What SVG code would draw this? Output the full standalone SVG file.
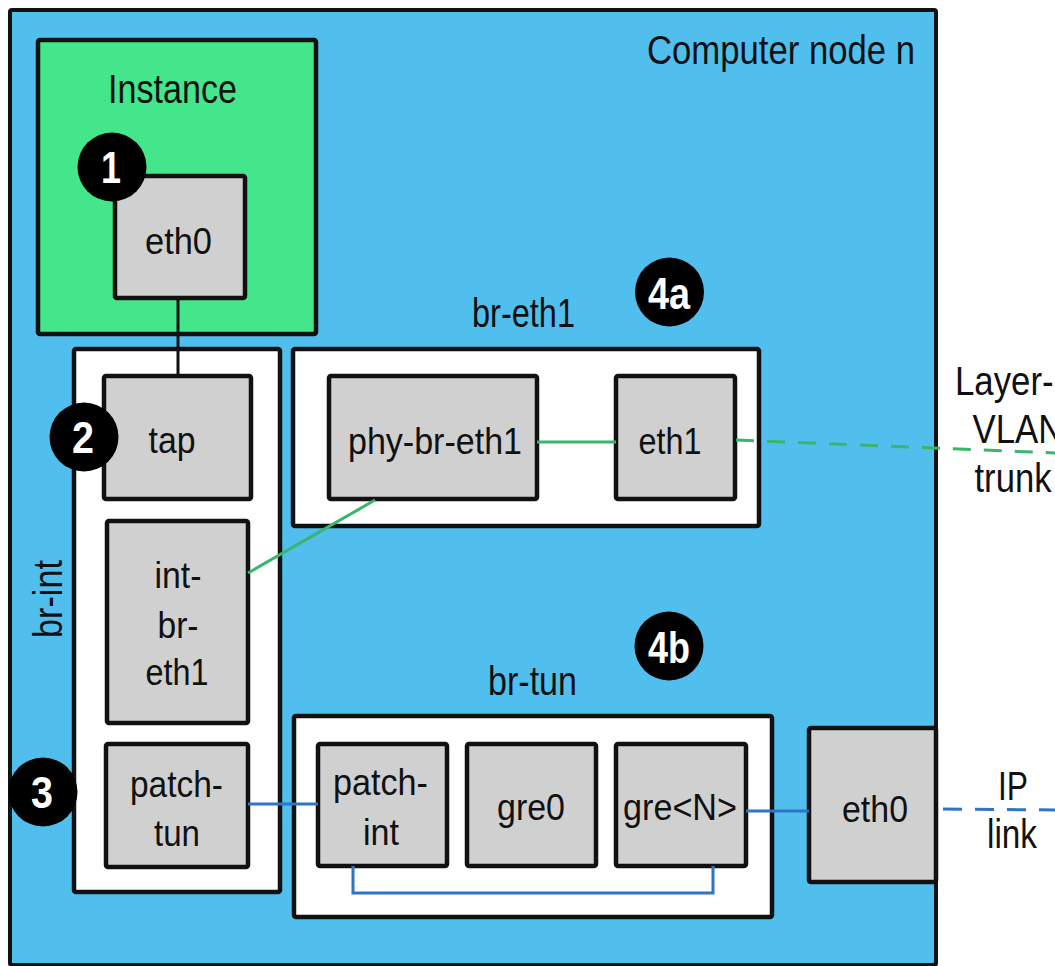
<svg xmlns="http://www.w3.org/2000/svg" width="1055" height="966" viewBox="0 0 1055 966">
<style>
text{font-family:"Liberation Sans",Arial,sans-serif;fill:#111;}
.lbl{font-size:36px;text-anchor:middle;}
.ttl{font-size:41px;text-anchor:middle;}
.badge text{font-size:44px;font-weight:bold;fill:#fff;text-anchor:middle;}
.box{fill:#d0d0d0;stroke:#111;stroke-width:4.5;}
.cont{fill:#fff;stroke:#111;stroke-width:4.5;}
.g{stroke:#3bb46c;stroke-width:3;fill:none;}
.b{stroke:#2f74c6;stroke-width:3;fill:none;}
</style>
<rect width="1055" height="966" fill="#fff"/>
<g id="computer-node">
<rect x="10" y="10" width="926" height="955" rx="2" fill="#50bfee" stroke="#111" stroke-width="4"/>
<text class="ttl" x="781" y="64" textLength="268" lengthAdjust="spacingAndGlyphs">Computer node n</text>
</g>
<g id="instance">
<rect x="38" y="40" width="278" height="294" rx="2" fill="#44e68b" stroke="#111" stroke-width="4.5"/>
<text class="ttl" x="172.5" y="103" textLength="129" lengthAdjust="spacingAndGlyphs">Instance</text>
</g>
<g id="instance-eth0">
<rect class="box" x="115" y="176" width="130" height="122" rx="2"/>
<text class="lbl" x="178.5" y="254" textLength="67" lengthAdjust="spacingAndGlyphs">eth0</text>
</g>
<g id="br-int">
<rect class="cont" x="74" y="349" width="206" height="543" rx="2"/>
<text class="ttl" transform="translate(62 599) rotate(-90)" x="0" y="0" textLength="78" lengthAdjust="spacingAndGlyphs">br-int</text>
</g>
<g id="tap">
<rect class="box" x="104" y="376" width="147" height="123" rx="2"/>
<text class="lbl" x="172" y="453" textLength="47" lengthAdjust="spacingAndGlyphs">tap</text>
</g>
<g id="int-br-eth1">
<rect class="box" x="107" y="521" width="141" height="202" rx="2"/>
<text class="lbl" x="178" y="588" textLength="47" lengthAdjust="spacingAndGlyphs">int-</text>
<text class="lbl" x="178" y="638" textLength="41" lengthAdjust="spacingAndGlyphs">br-</text>
<text class="lbl" x="177" y="685" textLength="63" lengthAdjust="spacingAndGlyphs">eth1</text>
</g>
<g id="patch-tun">
<rect class="box" x="106" y="744" width="142" height="123" rx="2"/>
<text class="lbl" x="176.5" y="797" textLength="93" lengthAdjust="spacingAndGlyphs">patch-</text>
<text class="lbl" x="177" y="846" textLength="46" lengthAdjust="spacingAndGlyphs">tun</text>
</g>
<g id="br-eth1">
<rect class="cont" x="293" y="349" width="466" height="177" rx="2"/>
<text class="ttl" x="523.5" y="327" textLength="103" lengthAdjust="spacingAndGlyphs">br-eth1</text>
</g>
<g id="phy-br-eth1">
<rect class="box" x="329" y="376" width="208" height="123" rx="2"/>
<text class="lbl" x="435" y="454" textLength="174" lengthAdjust="spacingAndGlyphs">phy-br-eth1</text>
</g>
<g id="eth1">
<rect class="box" x="616" y="376" width="119" height="123" rx="2"/>
<text class="lbl" x="670" y="454" textLength="63" lengthAdjust="spacingAndGlyphs">eth1</text>
</g>
<g id="br-tun">
<rect class="cont" x="294" y="716" width="478" height="201" rx="2"/>
<text class="ttl" x="532.5" y="695" textLength="89" lengthAdjust="spacingAndGlyphs">br-tun</text>
</g>
<g id="patch-int">
<rect class="box" x="318" y="744" width="129" height="122" rx="2"/>
<text class="lbl" x="380.5" y="795" textLength="95" lengthAdjust="spacingAndGlyphs">patch-</text>
<text class="lbl" x="381" y="845" textLength="36" lengthAdjust="spacingAndGlyphs">int</text>
</g>
<g id="gre0">
<rect class="box" x="467" y="744" width="129" height="122" rx="2"/>
<text class="lbl" x="531" y="820" textLength="68" lengthAdjust="spacingAndGlyphs">gre0</text>
</g>
<g id="greN">
<rect class="box" x="616" y="744" width="130" height="122" rx="2"/>
<text class="lbl" x="680" y="820" textLength="114" lengthAdjust="spacingAndGlyphs">gre&lt;N&gt;</text>
</g>
<g id="eth0-physical">
<rect class="box" x="809" y="728" width="127" height="154" rx="2"/>
<text class="lbl" x="875" y="822" textLength="66" lengthAdjust="spacingAndGlyphs">eth0</text>
</g>
<g id="vlan-trunk-label">
<text class="ttl" x="1014" y="395" font-size="40" textLength="118" lengthAdjust="spacingAndGlyphs">Layer-2</text>
<text class="ttl" x="1018" y="443" font-size="40" textLength="91" lengthAdjust="spacingAndGlyphs">VLAN</text>
<text class="ttl" x="1013" y="492" font-size="40" textLength="77" lengthAdjust="spacingAndGlyphs">trunk</text>
</g>
<g id="ip-link-label">
<text class="ttl" x="1013" y="800" textLength="30" lengthAdjust="spacingAndGlyphs">IP</text>
<text class="ttl" x="1012" y="848" textLength="50" lengthAdjust="spacingAndGlyphs">link</text>
</g>
<g id="connectors">
<line x1="178" y1="298" x2="178" y2="376" stroke="#111" stroke-width="3"/>
<line class="g" x1="537" y1="442" x2="616" y2="442"/>
<line class="g" x1="248" y1="573" x2="375" y2="500"/>
<line class="g" x1="736" y1="440" x2="1055" y2="453" stroke-dasharray="18 13"/>
<line class="b" x1="248" y1="804" x2="318" y2="804"/>
<line class="b" x1="746" y1="811" x2="809" y2="811"/>
<polyline class="b" points="353,866 353,893 713,893 713,866"/>
<line class="b" x1="943" y1="809" x2="1055" y2="810" stroke-dasharray="19 13"/>
</g>
<g id="badge-1" class="badge">
<circle cx="112" cy="167" r="34.5" fill="#000"/>
<text x="111" y="183" textLength="20" lengthAdjust="spacingAndGlyphs">1</text>
</g>
<g id="badge-2" class="badge">
<circle cx="84" cy="437" r="34.5" fill="#000"/>
<text x="83" y="453" textLength="22" lengthAdjust="spacingAndGlyphs">2</text>
</g>
<g id="badge-3" class="badge">
<circle cx="43" cy="792" r="34.5" fill="#000"/>
<text x="42" y="808" textLength="22" lengthAdjust="spacingAndGlyphs">3</text>
</g>
<g id="badge-4a" class="badge">
<circle cx="669.5" cy="292" r="34.5" fill="#000"/>
<text x="669" y="309" textLength="42" lengthAdjust="spacingAndGlyphs">4a</text>
</g>
<g id="badge-4b" class="badge">
<circle cx="669" cy="646" r="34.5" fill="#000"/>
<text x="669" y="663" textLength="42" lengthAdjust="spacingAndGlyphs">4b</text>
</g>
</svg>
